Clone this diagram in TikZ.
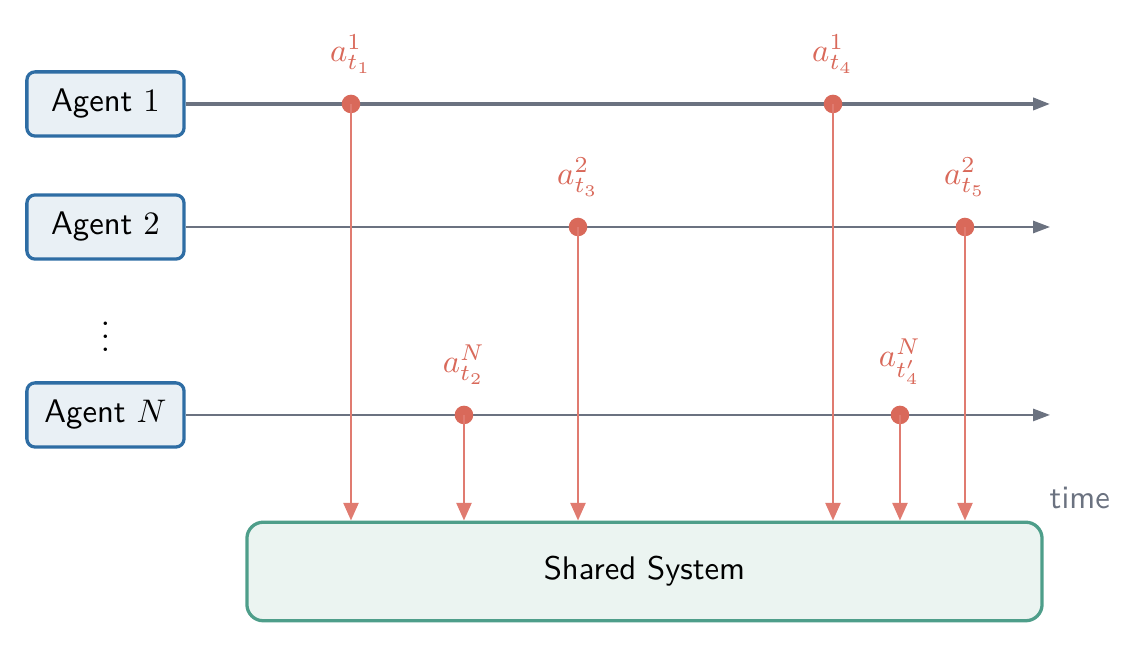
\documentclass[tikz,border=0pt]{standalone}
\usepackage{amsmath}
\usepackage{tikz}
\usetikzlibrary{arrows.meta,positioning}

\definecolor{lineGray}{HTML}{6B7280}
\definecolor{dotRed}{HTML}{D9695A}
\definecolor{arrRed}{HTML}{E07B70}
\definecolor{agBlue}{HTML}{2E6DA4}
\definecolor{agFill}{HTML}{E9F0F5}
\definecolor{sysGreen}{HTML}{4E9E8A}
\definecolor{sysFill}{HTML}{EBF4F1}

\begin{document}
\begin{tikzpicture}[
    agent/.style={draw=agBlue,fill=agFill,line width=1pt,rounded corners=2.5pt,
        minimum width=1.69cm,minimum height=0.69cm,font=\sffamily},
    timeline/.style={lineGray,line width=0.65pt,-{Triangle[length=1.8mm,width=1.3mm]}},
    act/.style={circle,fill=dotRed,inner sep=0pt,minimum size=0.2cm,
        label={[dotRed,yshift=1mm]above:#1}},
    send/.style={arrRed,line width=0.85pt,-{Triangle[length=1.9mm,width=1.6mm]}}
]
\useasboundingbox (0,0) rectangle (12.344,6.989);

\node [agent] (a1) at (1.134,5.871) {Agent $1$};
\node [agent] (a2) at (1.134,4.548) {Agent $2$};
\node (dots) at (1.134,3.47) {$\vdots$};
\node [agent] (aN) at (1.134,2.527) {Agent $N$};

\node [draw=sysGreen,fill=sysFill,line width=1pt,rounded corners=5pt,
    minimum width=8.55cm,minimum height=1.06cm,font=\sffamily] (sys) at (6.930,0.844) {Shared System};
\node [lineGray,font=\sffamily] (time) at (11.61,1.634) {time};

% time axes
\coordinate (e1) at (11.29,5.871);
\coordinate (e2) at (11.29,4.548);
\coordinate (eN) at (11.29,2.527);
\draw [timeline,line width=0.95pt] (a1.east) -- (e1);
\draw [timeline] (a2.east) -- (e2);
\draw [timeline] (aN.east) -- (eN);

% actions
\node [act={$a^{1}_{t_1}$}] (x1) at (3.774,5.871) {};
\node [act={$a^{1}_{t_4}$}] (x4) at (8.957,5.871) {};
\node [act={$a^{2}_{t_3}$}] (x3) at (6.215,4.548) {};
\node [act={$a^{2}_{t_5}$}] (x5) at (10.376,4.548) {};
\node [act={$a^{N}_{t_2}$}] (x2) at (4.989,2.527) {};
\node [act={$a^{N}_{t'_4}$}] (x6) at (9.677,2.527) {};

\foreach \x in {x1,x2,x3,x4,x5,x6}
    \draw [send] (\x.center) -- (\x |- sys.north);
\end{tikzpicture}
\end{document}
